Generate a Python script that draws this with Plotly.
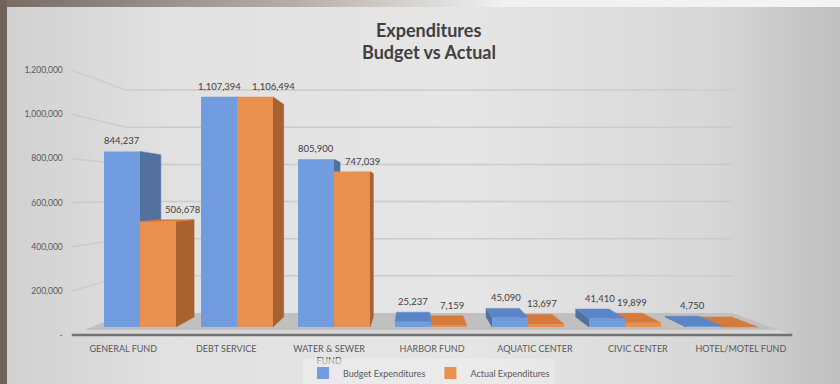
import base64
import plotly.graph_objects as go

# ---- data -------------------------------------------------------------
categories = ["GENERAL FUND", "DEBT SERVICE", "WATER & SEWER<br>FUND", "HARBOR FUND",
              "AQUATIC CENTER", "CIVIC CENTER", "HOTEL/MOTEL FUND"]
budget = [844237, 1107394, 805900, 25237, 45090, 41410, 4750]
actual = [506678, 1106494, 747039, 7159, 13697, 19899, 0]
series_names = ["Budget Expenditures", "Actual Expenditures"]
y_tick_values = [0, 200000, 400000, 600000, 800000, 1000000, 1200000]
y_tick_labels = ["-", "200,000", "400,000", "600,000", "800,000", "1,000,000", "1,200,000"]
title_lines = ["Expenditures", "Budget vs Actual"]

# ---- styling ------------------------------------------------------------
W, H = 840, 384
FONT = "Lato"
TEXT = "#595959"
FRONT = ["#719de0", "#e98f4f"]
SIDE = ["#53719f", "#a8622f"]
TOP = ["#5a85c9", "#d67b3b"]
BARGAP = 0.258
BAR_W = (1 - BARGAP) / 2

# ---- simple perspective camera ----------------------------------------
# the bar front plane is mapped linearly onto the page; deeper planes
# shrink towards a vanishing point expressed in the same units
PX0, PX_PER_CAT = 140.0, 97.0
PY0, PY_PER_UNIT = 327.0, 41.6 / 200000
VP = (2.825, 629800.0)
BAR_DEPTH = 0.076
FLOOR_FRONT, FLOOR_MID, FLOOR_BACK = -0.0611, -0.023, 0.1069
X_LO, X_HI = -0.5, len(categories) - 0.5


def project(x, v, d):
    return x + d * (VP[0] - x), v + d * (VP[1] - v)


def px_to_x(px):
    return (px - PX0) / PX_PER_CAT


def py_to_v(py):
    return (PY0 - py) / PY_PER_UNIT


def plane_range(lo, hi, d, k):
    # axis range of a plane at depth d whose projection spans [lo, hi]
    return [(lo - d * VP[k]) / (1 - d), (hi - d * VP[k]) / (1 - d)]


x_range = [px_to_x(0), px_to_x(W)]
y_range = [py_to_v(H), py_to_v(0)]


def poly(points):
    xs = [p[0] for p in points] + [points[0][0]]
    ys = [p[1] for p in points] + [points[0][1]]
    return xs, ys


fig = go.Figure()

# back wall and left wall gridlines
gx, gy = [], []
for v in y_tick_values[1:]:
    for pt in (project(X_LO, v, FLOOR_FRONT), project(X_LO, v, FLOOR_BACK),
               project(X_HI, v, FLOOR_BACK)):
        gx.append(pt[0])
        gy.append(pt[1])
    gx.append(None)
    gy.append(None)
fig.add_trace(go.Scatter(x=gx, y=gy, mode="lines", line=dict(color="#cbcbcb", width=1.5),
                         showlegend=False, hoverinfo="skip"))

# floor
fx, fy = poly([project(X_LO, 0, FLOOR_MID), project(X_HI, 0, FLOOR_MID),
               project(X_HI, 0, FLOOR_BACK), project(X_LO, 0, FLOOR_BACK)])
fig.add_trace(go.Scatter(x=fx, y=fy, mode="lines", fill="toself", fillcolor="#c0c0c0",
                         line=dict(width=0), showlegend=False, hoverinfo="skip"))
fx, fy = poly([project(X_LO, 0, FLOOR_FRONT), project(X_HI, 0, FLOOR_FRONT),
               project(X_HI, 0, FLOOR_MID), project(X_LO, 0, FLOOR_MID)])
fig.add_trace(go.Scatter(x=fx, y=fy, mode="lines", fill="toself", fillcolor="#d7d7d7",
                         line=dict(width=0), showlegend=False, hoverinfo="skip"))
ex = [project(X_LO, 0, FLOOR_FRONT)[0], project(X_HI, 0, FLOOR_FRONT)[0]]
ey = [project(X_LO, 0, FLOOR_FRONT)[1], project(X_HI, 0, FLOOR_FRONT)[1]]
fig.add_trace(go.Scatter(x=ex, y=ey, mode="lines", line=dict(color="#727272", width=2.5),
                         showlegend=False, hoverinfo="skip"))

# side and top faces of every bar, farthest from the vanishing point first
bars = []
for s, values in enumerate([budget, actual]):
    for i, h in enumerate(values):
        x0 = i - BAR_W + s * BAR_W
        bars.append((abs(x0 + BAR_W / 2 - VP[0]), s, x0, x0 + BAR_W, h))
bars.sort(key=lambda b: -b[0])

for _, s, x0, x1, h in bars:
    faces = []
    if x1 < VP[0]:
        faces.append(([(x1, 0), (x1, h), project(x1, h, BAR_DEPTH), project(x1, 0, BAR_DEPTH)], SIDE[s]))
    elif x0 > VP[0]:
        faces.append(([(x0, 0), (x0, h), project(x0, h, BAR_DEPTH), project(x0, 0, BAR_DEPTH)], SIDE[s]))
    if h < VP[1]:
        faces.append(([(x0, h), (x1, h), project(x1, h, BAR_DEPTH), project(x0, h, BAR_DEPTH)], TOP[s]))
    for pts, col in faces:
        px, py = poly(pts)
        fig.add_trace(go.Scatter(x=px, y=py, mode="lines", fill="toself", fillcolor=col,
                                 line=dict(width=0.5, color=col), showlegend=False,
                                 hoverinfo="skip"))

# front faces of the bars
for s, values in enumerate([budget, actual]):
    fig.add_trace(go.Bar(x=list(range(len(categories))), y=values, name=series_names[s],
                         marker=dict(color=FRONT[s], line=dict(width=0)),
                         xaxis="x2", yaxis="y2", offsetgroup=str(s)))

# empty traces that carry the label axes
fig.add_trace(go.Scatter(x=[], y=[], xaxis="x3", yaxis="y", showlegend=False, hoverinfo="skip"))
fig.add_trace(go.Scatter(x=[], y=[], xaxis="x", yaxis="y3", showlegend=False, hoverinfo="skip"))

# value labels
annotations = []
for s, values in enumerate([budget, actual]):
    for i, h in enumerate(values):
        if not h:
            continue
        cx = i - BAR_W / 2 + s * BAR_W
        if s == 0:
            lx = cx if h > VP[1] else project(cx, h, BAR_DEPTH / 2)[0]
            shift = 0
        else:
            lx = project(cx, h, BAR_DEPTH)[0]
            shift = 6
        ly = max(h, project(cx, h, BAR_DEPTH)[1])
        annotations.append(dict(x=lx, y=ly, xref="x", yref="y", text=f"{h:,}",
                                showarrow=False, yanchor="bottom", yshift=3, xshift=shift,
                                font=dict(family=FONT, size=9.5, color="#404040")))

# two-line chart title
for k, (line, ypx) in enumerate(zip(title_lines, [30, 52])):
    annotations.append(dict(x=429 / W, y=1 - ypx / H, xref="paper", yref="paper",
                            text=f"<b>{line}</b>", showarrow=False, xanchor="center",
                            yanchor="middle",
                            font=dict(family=FONT, size=18, color="#404040")))

floor_front_px = PY0 - FLOOR_FRONT * VP[1] * PY_PER_UNIT
floor_left_px = PX0 + project(X_LO, 0, FLOOR_FRONT)[0] * PX_PER_CAT

# slide background
svg = f"""<svg xmlns='http://www.w3.org/2000/svg' width='{W}' height='{H}'>
<defs>
<linearGradient id='g' x1='0' y1='0' x2='1' y2='0'>
<stop offset='0' stop-color='#d0d0d0'/><stop offset='0.2' stop-color='#e1e1e1'/>
<stop offset='0.55' stop-color='#e6e6e6'/><stop offset='0.85' stop-color='#d7d7d7'/>
<stop offset='1' stop-color='#bfbfbf'/></linearGradient>
<linearGradient id='t' x1='0' y1='0' x2='1' y2='0'>
<stop offset='0' stop-color='#776b62'/><stop offset='0.35' stop-color='#b5aea8'/>
<stop offset='0.6' stop-color='#f1f1f1'/><stop offset='1' stop-color='#f4f4f4'/></linearGradient>
</defs>
<rect width='{W}' height='{H}' fill='url(#g)'/>
<rect width='{W}' height='7' fill='url(#t)'/>
<rect width='7' height='{H}' fill='#6f645b'/>
</svg>"""
bg = "data:image/svg+xml;base64," + base64.b64encode(svg.encode()).decode()

fig.update_layout(
    width=W, height=H,
    margin=dict(l=0, r=0, t=0, b=0, autoexpand=False),
    paper_bgcolor="#e0e0e0", plot_bgcolor="rgba(0,0,0,0)",
    images=[dict(source=bg, xref="paper", yref="paper", x=0, y=1, sizex=1, sizey=1,
                 sizing="stretch", layer="below")],
    barmode="group", bargap=BARGAP, bargroupgap=0,
    xaxis=dict(range=x_range, visible=False, fixedrange=True),
    yaxis=dict(range=y_range, visible=False, fixedrange=True),
    xaxis2=dict(range=x_range, visible=False, overlaying="x", fixedrange=True),
    yaxis2=dict(range=y_range, visible=False, overlaying="y", fixedrange=True),
    xaxis3=dict(range=plane_range(x_range[0], x_range[1], FLOOR_FRONT, 0),
                overlaying="x", anchor="free", position=1 - floor_front_px / H, side="bottom",
                tickmode="array", tickvals=list(range(len(categories))), ticktext=categories,
                showgrid=False, zeroline=False, showline=False, ticks="",
                ticklabelstandoff=7,
                tickfont=dict(family=FONT, size=9, color=TEXT), fixedrange=True),
    yaxis3=dict(range=plane_range(y_range[0], y_range[1], FLOOR_FRONT, 1),
                overlaying="y", anchor="free", position=(floor_left_px - 9) / W, side="left",
                tickmode="array", tickvals=y_tick_values, ticktext=y_tick_labels,
                showgrid=False, zeroline=False, showline=False, ticks="",
                tickfont=dict(family=FONT, size=8.5, color=TEXT), fixedrange=True),
    legend=dict(orientation="h", x=429 / W, xanchor="center", y=1 - 373 / H, yanchor="middle",
                bgcolor="rgba(238,238,238,0.55)", font=dict(family=FONT, size=9, color=TEXT),
                itemwidth=30, tracegroupgap=0),
    annotations=annotations,
    showlegend=True,
)

fig.write_html("out.html")
